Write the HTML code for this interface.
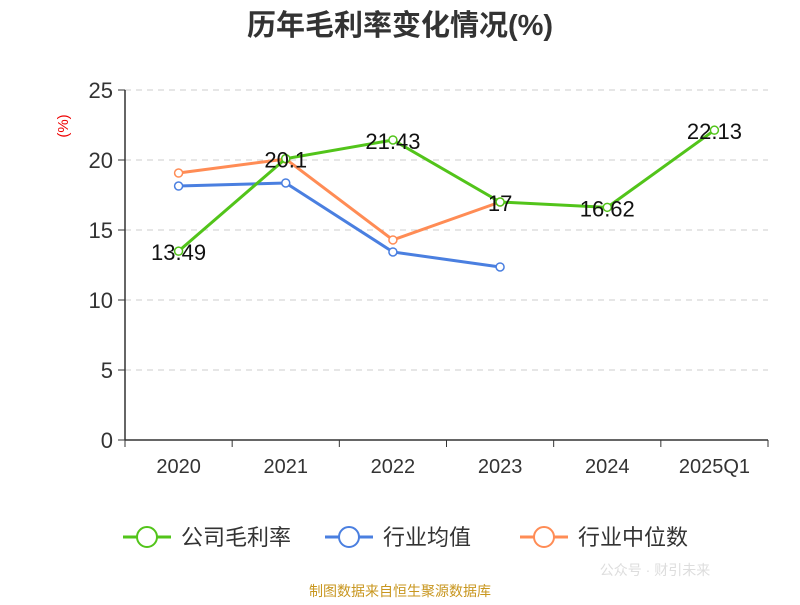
<!DOCTYPE html>
<html><head><meta charset="utf-8"><style>
body{margin:0;background:#fff;}
svg text{font-family:"Liberation Sans","Noto Sans CJK SC",sans-serif;}
</style></head><body>
<svg width="800" height="600" id="c">
<text x="400" y="35" text-anchor="middle" font-size="29" font-weight="bold" fill="#333">历年毛利率变化情况(%)</text>
<text transform="translate(68,126) rotate(-90)" text-anchor="middle" font-size="15" fill="#e00">(%)</text>
<g id="grid"></g><g id="series"></g><g id="legend"></g>
<text x="400" y="596" text-anchor="middle" font-size="14" fill="#c8961e">制图数据来自恒生聚源数据库</text>
<text x="655" y="575" text-anchor="middle" font-size="14" fill="#ddd">公众号 · 财引未来</text>
</svg>
<script>
const categories=["2020","2021","2022","2023","2024","2025Q1"];
const yTicks=[0,5,10,15,20,25];
const company=[13.49,20.1,21.43,17,16.62,22.13];
const industryAvg=[18.14,18.36,13.43,12.36,null,null];
const industryMedian=[19.07,20.07,14.29,17.0,null,null];
const seriesNames=["公司毛利率","行业均值","行业中位数"];
const colors=["#52c41a","#4a7fe0","#ff8c55"];
const NS="http://www.w3.org/2000/svg";
const L=125,R=768,T=90,B=440;
const bw=(R-L)/categories.length;
const x=i=>L+bw*(i+0.5);
const y=v=>B-(v/25)*(B-T);
function mk(tag,attrs,parent,txt){const e=document.createElementNS(NS,tag);for(const k in attrs)e.setAttribute(k,attrs[k]);if(txt!=null)e.textContent=txt;parent.appendChild(e);return e;}
const g=document.getElementById('grid');
yTicks.forEach(t=>{
  if(t>0){const l=mk('line',{x1:L,x2:R,y1:y(t),y2:y(t),stroke:'#ccc','stroke-dasharray':'6,5'},g);
  
  }
  const tk=mk('line',{x1:L-7,x2:L,y1:y(t),y2:y(t),stroke:'#333'},g);
  
  
  const tx=mk('text',{x:L-12,y:y(t)+8,'text-anchor':'end','font-size':'22',fill:'#333'},g,t);
  
  
});
const ax=mk('line',{x1:L,x2:L,y1:T,y2:B,stroke:'#333','stroke-width':1.5},g);


const xa=mk('line',{x1:L,x2:R,y1:B,y2:B,stroke:'#333','stroke-width':1.5},g);


for(let i=0;i<=categories.length;i++){const t=mk('line',{x1:L+bw*i,x2:L+bw*i,y1:B,y2:B+7,stroke:'#333'},g);

}
categories.forEach((c,i)=>{const t=mk('text',{x:x(i),y:B+33,'text-anchor':'middle','font-size':'20',fill:'#333'},g,c);

});
const s=document.getElementById('series');
function draw(data,color,name,labels){
  const pts=data.map((v,i)=>v==null?null:[x(i),y(v)]).filter(p=>p);
  const pl=mk('polyline',{points:pts.map(p=>p.join(',')).join(' '),fill:'none',stroke:color,'stroke-width':3},s);
  
  
  data.forEach((v,i)=>{if(v==null)return;
    const c=mk('circle',{cx:x(i),cy:y(v),r:4,fill:'#fff',stroke:color,'stroke-width':1.5},s);
    
    
    if(labels){const t=mk('text',{x:x(i),y:y(v)+9,'text-anchor':'middle','font-size':'22',fill:'#111'},s,String(v));
    
    }
  });
}
draw(industryAvg,colors[1],'industry-avg',false);
draw(industryMedian,colors[2],'industry-median',false);
draw(company,colors[0],'company',true);
const lg=document.getElementById('legend');
const lx=[123,325,520];
seriesNames.forEach((n,i)=>{
  const gg=mk('g',{},lg);
  
  
  mk('line',{x1:lx[i],x2:lx[i]+48,y1:537,y2:537,stroke:colors[i],'stroke-width':3},gg);
  mk('circle',{cx:lx[i]+24,cy:537,r:10,fill:'#fff',stroke:colors[i],'stroke-width':2},gg);
  mk('text',{x:lx[i]+58,y:545,'font-size':'22',fill:'#333'},gg,n);
});
</script>
</body></html>
